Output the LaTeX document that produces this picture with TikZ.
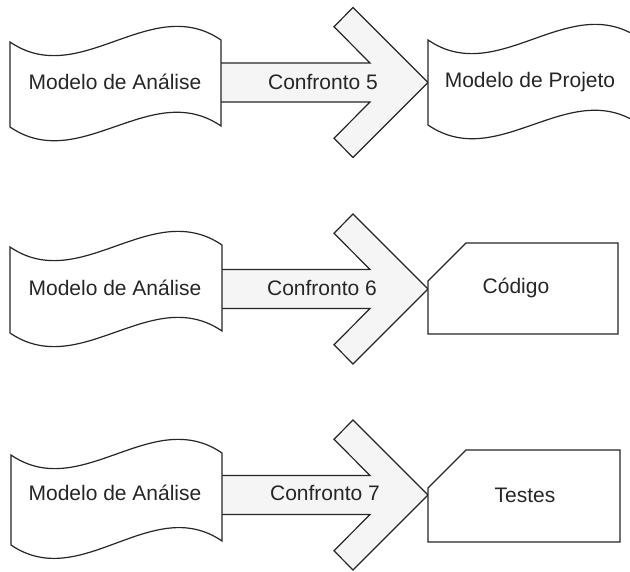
\documentclass[tikz,border=0pt]{standalone}
\usepackage{fontspec}
\setmainfont{Liberation Sans}

% wavy "tape" document: #1 left x, #2 width, #3/#4 top-left/top-right y, #5/#6 bottom-left/bottom-right y
\newcommand\tapeshape[6]{%
  \draw[tapebox] (#1,#3)
    .. controls ({#1+#2/3},{#3+48}) and ({#1+2*#2/3},{#4-48}) .. ({#1+#2},#4)
    -- ({#1+#2},#6)
    .. controls ({#1+2*#2/3},{#6-48}) and ({#1+#2/3},{#5+48}) .. (#1,#5)
    -- cycle;}

% block arrow with a chevron head, centred on height #1
\newcommand\confarrow[1]{%
  \fill[bigarrow] (221,{#1-19.5}) -- (370,{#1-19.5}) -- (334,{#1-55.75}) -- (353,{#1-75})
    -- (428,#1) -- (353,{#1+75}) -- (334,{#1+55.75}) -- (370,{#1+19.5})
    -- (221,{#1+19.5}) -- cycle;
  \draw[outline] (221,{#1-19.5}) -- (370,{#1-19.5}) -- (334,{#1-55.75}) -- (353,{#1-75})
    -- (428,#1) -- (353,{#1+75}) -- (334,{#1+55.75}) -- (370,{#1+19.5})
    -- (221,{#1+19.5});}

% box with a cut top-left corner: #1 left x, #2 right x, #3 top y, #4 bottom y, #5 corner size
\newcommand\tagshape[5]{%
  \draw[tagbox] (#1,{#3+#5}) -- ({#1+#5},#3) -- (#2,#3) -- (#2,#4) -- (#1,#4) -- cycle;}

\begin{document}
\begin{tikzpicture}[x=1pt, y=-1pt,
  outline/.style={draw=black!85, line width=1.2pt, line join=miter},
  tapebox/.style={outline, fill=white},
  tagbox/.style={outline, fill=white},
  bigarrow/.style={fill=black!4},
  lbl/.style={font=\fontsize{21}{25}\selectfont, inner sep=0pt, text=black!85}]

  \useasboundingbox[fill=white] (0,0) rectangle (630,572);

  \begin{scope}
    \clip (0,0) rectangle (630,572);

    % first row
    \confarrow{82.5}
    \tapeshape{10}{211}{42}{40}{127}{126}
    \tapeshape{428}{211}{40}{38}{125}{124}
    \node[lbl] (an1)  at (115,82)  {Modelo de Análise};
    \node[lbl] (cf5)  at (323,82)  {Confronto 5};
    \node[lbl] (proj) at (530,82)  {Modelo de Projeto};

    % second row
    \confarrow{289}
    \tapeshape{10}{212}{247}{245}{333}{331}
    \tagshape{428}{618}{243}{334}{38}
    \node[lbl] (an2)  at (115,288) {Modelo de Análise};
    \node[lbl] (cf6)  at (322,288) {Confronto 6};
    \node[lbl] (cod)  at (516,288) {Código};

    % third row
    \confarrow{495}
    \tapeshape{11}{211}{455}{453}{545}{541}
    \tagshape{428}{620}{450}{542}{38}
    \node[lbl] (an3)  at (115,493) {Modelo de Análise};
    \node[lbl] (cf7)  at (325,493) {Confronto 7};
    \node[lbl] (tst)  at (525,495) {Testes};
  \end{scope}
\end{tikzpicture}
\end{document}
